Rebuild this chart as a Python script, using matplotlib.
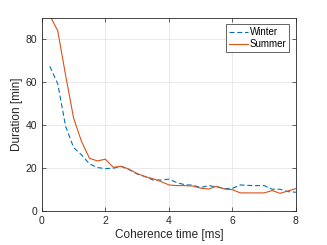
import numpy as np
import matplotlib
matplotlib.use('Agg')
import matplotlib.pyplot as plt

# Dane
coherence = np.arange(1, 33) * 0.25
winter = [67.3, 59.2, 39.3, 29.5, 26.1, 21.9, 20.2, 19.7, 19.9, 20.7, 19.2, 17.2,
          16.0, 14.4, 14.4, 14.8, 13.2, 12.2, 12.0, 10.9, 11.8, 11.2, 10.4, 10.5,
          12.1, 11.9, 11.8, 11.8, 10.1, 10.1, 9.0, 8.7]
summer = [91.0, 83.9, 63.0, 43.2, 32.3, 24.5, 23.3, 24.1, 20.3, 20.8, 19.4, 17.4,
          16.0, 15.0, 13.7, 12.1, 11.8, 11.8, 11.6, 10.6, 10.2, 11.5, 10.2, 9.9,
          8.4, 8.4, 8.4, 8.4, 9.5, 8.2, 9.3, 10.4]

plt.rcParams['font.family'] = ['Liberation Sans', 'DejaVu Sans']

fig = plt.figure(figsize=(3.27, 2.45), dpi=100)
ax = fig.add_axes([0.128, 0.139, 0.777, 0.789])

ax.plot(coherence, winter, '--', color='#0072BD', lw=0.8, label='Winter', dashes=(4.5, 2.5))
ax.plot(coherence, summer, '-', color='#D95319', lw=0.8, label='Summer')

ax.set_xlim(0, 8)
ax.set_ylim(0, 90)
ax.set_xticks([0, 2, 4, 6, 8])
ax.set_yticks([0, 20, 40, 60, 80])
ax.grid(True, color='#E6E6E6', lw=0.6)
ax.set_axisbelow(True)
ax.tick_params(direction='in', length=3, width=0.5, labelsize=7.5, colors='#262626',
               top=True, right=True)
for s in ax.spines.values():
    s.set_linewidth(0.6)
    s.set_color('#262626')
ax.set_xlabel('Coherence time [ms]', fontsize=8.5, color='#262626', labelpad=2)
ax.set_ylabel('Duration [min]', fontsize=8.5, color='#262626', labelpad=2)

leg = ax.legend(loc='upper right', fontsize=7, fancybox=False, framealpha=1,
                edgecolor='#262626', handlelength=1.9, handletextpad=0.2,
                borderpad=0.3, labelspacing=0.2, borderaxespad=0.7)
leg.get_frame().set_linewidth(0.5)

fig.savefig('out.png', dpi=100)
